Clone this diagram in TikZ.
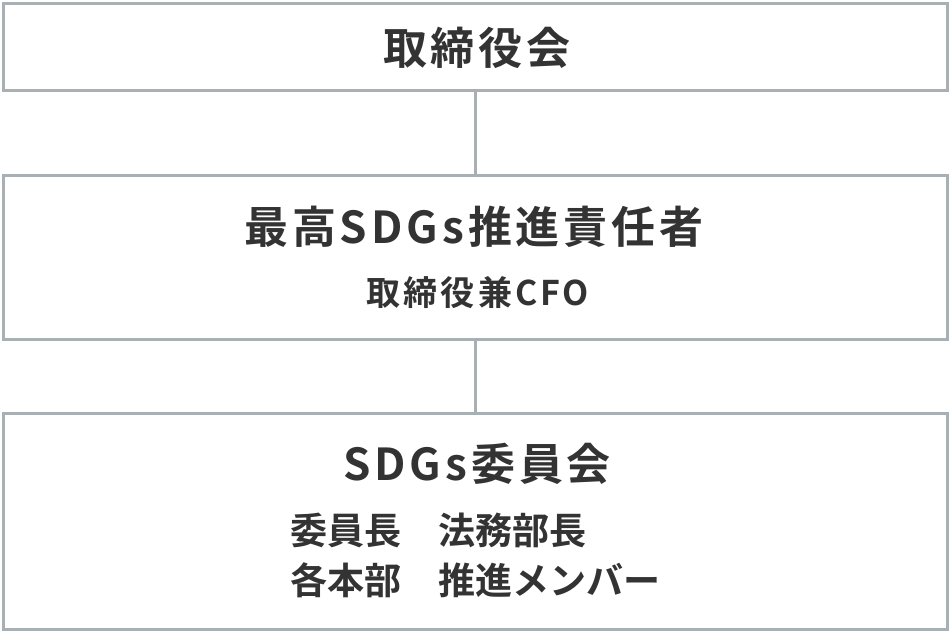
\documentclass[tikz,border=0pt]{standalone}
\usepackage{fontspec}
\setmainfont{Noto Sans CJK JP}[BoldFont={Noto Sans CJK JP Bold}]
\newfontfamily\headfont{Noto Sans CJK JP Bold}[LetterSpace=9]
\definecolor{framegray}{HTML}{A9B0B3}
\definecolor{inkgray}{HTML}{333333}

\tikzset{
  orgbox/.style={draw=framegray, line width=2.25pt, minimum width=708pt, inner sep=0pt},
  headtext/.style={text=inkgray, font=\headfont\fontsize{33}{38}\selectfont, inner sep=0pt},
  subtext/.style={text=inkgray, font=\headfont\fontsize{25.5}{30}\selectfont, inner sep=0pt},
  membertext/.style={text=inkgray, font=\bfseries\fontsize{27.8}{37.5}\selectfont, inner sep=0pt, align=left, anchor=west},
  link/.style={draw=framegray, line width=2.25pt}
}

\begin{document}
\begin{tikzpicture}[x=0.75pt, y=-0.75pt]
\useasboundingbox (0,0) rectangle (951,632);
\node[orgbox, minimum height=65.6pt] (board) at (475.5,47.25) {};
\node[orgbox, minimum height=123pt] (cso) at (475.5,257) {};
\node[orgbox, minimum height=162pt] (cmte) at (475.5,521) {};
\node[headtext] (boardtitle) at (477,48) {取締役会};
\node[headtext] (csotitle) at (474,227) {最高SDGs推進責任者};
\node[subtext] (csosub) at (478,293) {取締役兼CFO};
\node[headtext] (cmtetitle) at (477,464) {SDGs委員会};
\node[membertext] (members) at (290,555) {委員長　法務部長\\各本部　推進メンバー};
\draw[link] (board.south) -- (cso.north);
\draw[link] (cso.south) -- (cmte.north);
\end{tikzpicture}
\end{document}
